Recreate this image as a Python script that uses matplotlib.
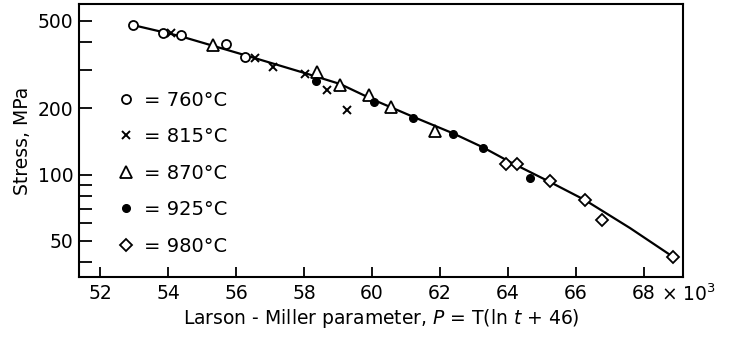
import matplotlib
matplotlib.use("Agg")
import matplotlib.pyplot as plt
from matplotlib.ticker import FixedLocator, NullFormatter, LogLocator

# Larson-Miller parameter (x 10^3) and rupture stress (MPa)
p_760 = [52.97, 53.85, 54.38, 55.71, 56.26]
s_760 = [478, 440, 431, 392, 342]

p_815 = [54.10, 56.56, 57.09, 58.03, 58.68, 59.26]
s_815 = [438, 338, 308, 286, 242, 197]

p_870 = [55.32, 58.38, 59.06, 59.91, 60.56, 61.85]
s_870 = [388, 292, 255, 230, 203, 157]

p_925 = [58.35, 60.06, 61.21, 62.38, 63.26, 64.65]
s_925 = [266, 214, 181, 153, 132, 96]

p_980 = [63.94, 64.26, 65.24, 66.26, 66.76, 68.85]
s_980 = [112, 112, 93, 76.5, 62, 42]

# master curve traced through the data
curve_p = [52.97, 54.35, 56.26, 58.03, 59.06, 60.06, 61.21, 62.38, 63.26,
           64.06, 65.24, 66.26, 67.59, 68.82]
curve_s = [478, 426, 349, 289, 258, 218, 183, 154, 133, 114, 92.4, 76.6,
           57.1, 42.6]

x_ticks = [52, 54, 56, 58, 60, 62, 64, 66, 68]
y_ticks = [50, 100, 200, 500]

fig = plt.figure(figsize=(7.35, 3.43), dpi=100)
ax = fig.add_axes([0.1075, 0.1924, 0.8218, 0.7959])

ax.plot(curve_p, curve_s, color="black", linewidth=1.6, zorder=2)

kw = dict(linestyle="none", color="black", zorder=3)
h1, = ax.plot(p_760, s_760, marker="o", markersize=6.5, markerfacecolor="white",
              markeredgewidth=1.3, **kw)
h2, = ax.plot(p_815, s_815, marker="x", markersize=5.5, markeredgewidth=1.4, **kw)
h3, = ax.plot(p_870, s_870, marker="^", markersize=8.5, markerfacecolor="white",
              markeredgewidth=1.3, **kw)
h4, = ax.plot(p_925, s_925, marker="o", markersize=5.5, **kw)
h5, = ax.plot(p_980, s_980, marker="D", markersize=6.5, markerfacecolor="white",
              markeredgewidth=1.3, **kw)

ax.set_yscale("log")
ax.set_xlim(51.38, 69.15)
ax.set_ylim(34.2, 596)

ax.xaxis.set_major_locator(FixedLocator(x_ticks))
ax.set_xticklabels([str(t) for t in x_ticks])
ax.yaxis.set_major_locator(FixedLocator(y_ticks))
ax.set_yticklabels([str(t) for t in y_ticks])
ax.yaxis.set_minor_locator(LogLocator(base=10, subs=range(1, 10)))
ax.yaxis.set_minor_formatter(NullFormatter())

ax.tick_params(axis="both", which="both", direction="in", colors="black",
               labelsize=13.5, width=1.3)
ax.tick_params(axis="x", which="major", length=7, pad=5)
ax.tick_params(axis="y", which="major", length=9, pad=4)
ax.tick_params(axis="y", which="minor", length=9)
ax.tick_params(axis="x", which="minor", length=0)

for sp in ax.spines.values():
    sp.set_linewidth(1.5)

# "x 10^3" trailing the last tick label
ax.annotate("\u00d7 10$^3$", xy=(68, 0), xycoords=ax.get_xaxis_transform(),
            xytext=(12, -5), textcoords="offset points", ha="left", va="top",
            fontsize=13.5)

ax.set_xlabel("Larson - Miller parameter, $P$ = T(ln $t$ + 46)", fontsize=13.5,
              labelpad=3)
ax.set_ylabel("Stress, MPa", fontsize=13.5, labelpad=4)

ax.legend([h1, h2, h3, h4, h5],
          ["= 760\u00b0C", "= 815\u00b0C", "= 870\u00b0C", "= 925\u00b0C", "= 980\u00b0C"],
          loc="lower left", bbox_to_anchor=(0.05, 0.05), frameon=False,
          fontsize=14, handlelength=0.9, handletextpad=0.5, labelspacing=0.9,
          borderaxespad=0)

fig.savefig("out.png", dpi=100)
